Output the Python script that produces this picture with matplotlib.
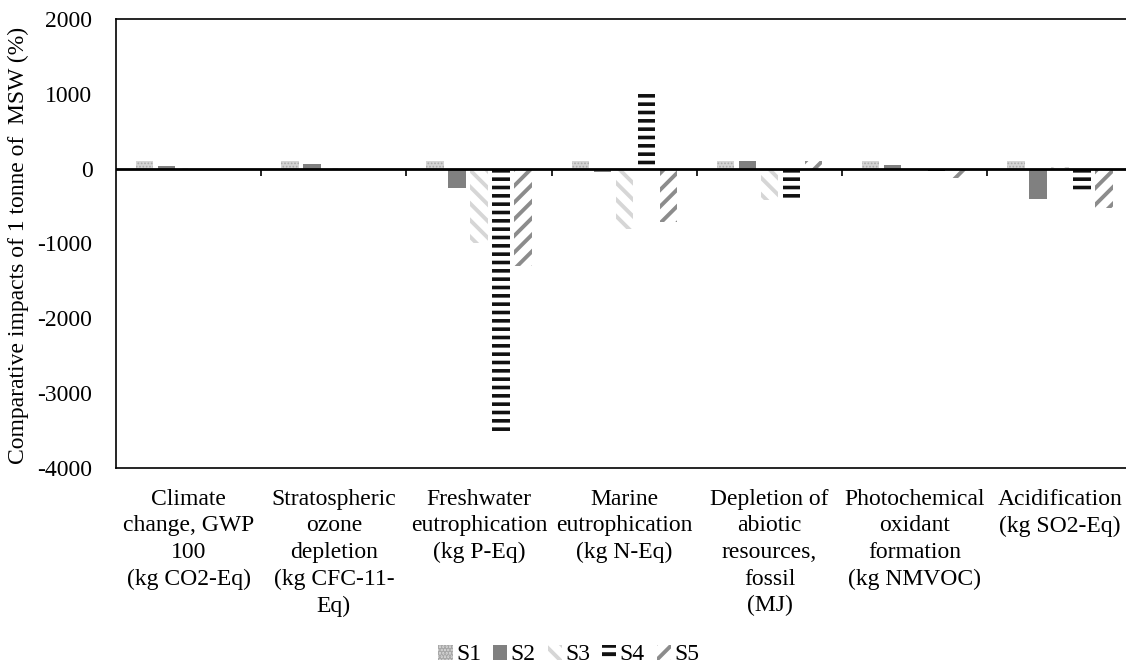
import matplotlib
matplotlib.use("Agg")
import matplotlib.pyplot as plt
import numpy as np

categories = [
    "Climate\nchange, GWP\n100\n(kg CO2-Eq)",
    "Stratospheric\nozone\ndepletion\n(kg CFC-11-\nEq)",
    "Freshwater\neutrophication\n(kg P-Eq)",
    "Marine\neutrophication\n(kg N-Eq)",
    "Depletion of\nabiotic\nresources,\nfossil\n(MJ)",
    "Photochemical\noxidant\nformation\n(kg NMVOC)",
    "Acidification\n(kg SO2-Eq)",
]
series_names = ["S1", "S2", "S3", "S4", "S5"]
S1 = [100, 100, 100, 100, 100, 100, 100]
S2 = [30, 60, -265, -50, 100, 50, -410]
S3 = [5, 5, -1000, -800, -420, -20, 20]
S4 = [0, 0, -3500, 1000, -430, -30, -330]
S5 = [0, 0, -1300, -710, 100, -130, -530]
values = [S1, S2, S3, S4, S5]
yticks = [-4000, -3000, -2000, -1000, 0, 1000, 2000]

styles = [
    dict(facecolor="#d4d4d4", edgecolor="#a8a8a8", hatch="....."),
    dict(facecolor="#808080", edgecolor="#808080", hatch=None),
    dict(facecolor="white", edgecolor="#d6d6d6", hatch="\\\\"),
    dict(facecolor="white", edgecolor="#111111", hatch="--"),
    dict(facecolor="white", edgecolor="#8c8c8c", hatch="//"),
]
hlw = [0.8, 1.0, 2.8, 2.6, 2.8]

FS = 17
plt.rcParams["font.family"] = ["Liberation Serif", "DejaVu Serif"]
fig = plt.figure(figsize=(11.26, 6.68), dpi=100)
W, H = 1126, 668
left, right, top, bottom = 116, 1132.5, 19, 468
ax = fig.add_axes([left / W, 1 - bottom / H, (right - left) / W, (bottom - top) / H])

x = np.arange(len(categories))
step = 0.1515
bw = 0.12
handles = []
for j, (name, vals) in enumerate(zip(series_names, values)):
    plt.rcParams["hatch.linewidth"] = hlw[j]
    st = styles[j]
    b = ax.bar(x + (j - 2) * step, vals, bw, facecolor=st["facecolor"],
               edgecolor=st["edgecolor"], hatch=st["hatch"], linewidth=0,
               label=name, zorder=2)
    handles.append(b)

ax.set_xlim(-0.5, len(categories) - 0.5)
ax.set_ylim(-4000, 2000)
ax.set_yticks(yticks)
ax.set_yticklabels([str(v) for v in yticks], fontsize=FS)
ax.set_xticks(x)
ax.set_xticklabels(categories, fontsize=FS, linespacing=1.35, va="top")
ax.tick_params(axis="x", length=0, pad=15)
ax.tick_params(axis="y", length=0, pad=17)
for s in ["left", "bottom", "top", "right"]:
    ax.spines[s].set_linewidth(1.2)
    ax.spines[s].set_color("black")

ax.axhline(0, color="black", linewidth=2.0, zorder=3)
zero_pos = (0 - (-4000)) / 6000
sec = ax.secondary_xaxis(zero_pos)
sec.set_xticks(np.arange(0.5, len(categories) - 0.5, 1.0))
sec.tick_params(axis="x", direction="out", length=5, width=1.2, bottom=True,
                top=False, labelbottom=False, labeltop=False)
for s in sec.spines.values():
    s.set_visible(False)

fig.text(18 / W, 1 - 245 / H, "Comparative impacts of 1 tonne of  MSW (%)",
         rotation=90, ha="center", va="center", fontsize=FS)

leg = fig.legend(handles=handles, labels=series_names, loc="center",
                 bbox_to_anchor=(569 / W, 1 - 655 / H), ncol=5, frameon=False,
                 fontsize=FS, handlelength=0.6, handleheight=0.6,
                 handletextpad=0.15, columnspacing=0.5)

fig.savefig("out.png", dpi=100)
